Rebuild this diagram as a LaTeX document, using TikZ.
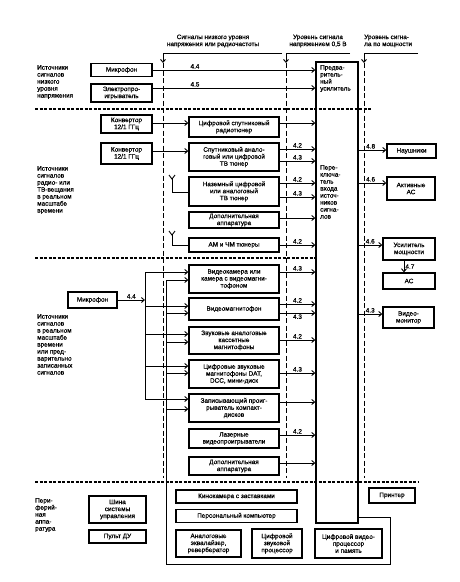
\documentclass[tikz,border=0pt]{standalone}
\usepackage{fontspec}
\setmainfont[FakeBold=0.6]{Liberation Sans}
\usetikzlibrary{arrows.meta}
\newcommand\tx{\fontsize{6.4}{7}\selectfont}
\tikzset{
 box/.style={draw, line width=1.3pt, align=center, inner sep=0pt, font=\tx},
 arr/.style={-{Straight Barb[length=3pt,width=5pt]}, line width=0.9pt},
 ln/.style={line width=0.9pt},
 sepl/.style={line width=1.2pt, dash pattern=on 3pt off 1.5pt},
 vdash/.style={line width=0.9pt, dash pattern=on 5pt off 2.5pt},
 lbl/.style={font=\tx, inner sep=1pt},
 cat/.style={font=\tx, align=left, anchor=north west, inner sep=0pt},
}
\begin{document}
\begin{tikzpicture}[x=1pt,y=-1pt]
\useasboundingbox (0,0) rectangle (460,582);

% headers
\node[lbl, align=center] (h1) at (213,41) {Сигналы низкого уровня\\напряжения или радиочастоты};
\node[lbl, align=center] (h2) at (318,41) {Уровень сигнала\\напряжением 0,5 В};
\node[lbl, align=left, anchor=west] (h3) at (363,41) {Уровень сигна-\\ла по мощности};
\coordinate (t1) at (163,53); \coordinate (t1e) at (282,53);
\coordinate (t2) at (286,53); \coordinate (t2e) at (350,53);
\coordinate (t3) at (364,53); \coordinate (t3e) at (418,53);
\draw[ln] (t1e) -- (t1); \draw[arr] (t1) -- (163,63); \draw[vdash] (163,63) -- (163,478);
\draw[ln] (t2e) -- (t2); \draw[arr] (t2) -- (286,63); \draw[vdash] (286,63) -- (286,478);
\draw[ln] (t3e) -- (t3); \draw[arr] (t3) -- (364,63); \draw[vdash] (364,63) -- (364,478);

% separators
\draw[sepl] (35,109) -- (372,109);
\draw[sepl] (35,258) -- (316,258);
\draw[sepl] (35,482) -- (418,482);

% category labels
\node[cat] (c1) at (37,65) {Источники\\сигналов\\низкого\\уровня\\напряжения};
\node[cat] (c2) at (37,166) {Источники\\сигналов\\радио- или\\ТВ-вещания\\в реальном\\масштабе\\времени};
\node[cat] (c3) at (37,314) {Источники\\сигналов\\в реальном\\масштабе\\времени\\или пред-\\варительно\\записанных\\сигналов};
\node[cat] (c4) at (35,498) {Пери-\\ферий-\\ная\\аппа-\\ратура};

% big box
\node[box, minimum width=42, minimum height=461] (big) at (337,292.5) {};
\node[cat] (pre) at (320,65) {Предва-\\ритель-\\ный\\усилитель};
\node[cat] (sw) at (320,165) {Пере-\\ключа-\\тель\\входа\\источ-\\ников\\сигна-\\лов};

% section 1
\node[box, minimum width=61, minimum height=13] (mic1) at (121.5,70) {Микрофон};
\node[box, minimum width=61, minimum height=18] (elec) at (121.5,93) {Электропро-\\игрыватель};
\draw[arr] (mic1.east) -- (big.west |- mic1.east) node[lbl,above,pos=0.26]{4.4};
\draw[arr] (elec.east |- 0,88) -- (big.west |- 0,88) node[lbl,above,pos=0.26]{4.5};

% section 2
\node[box, minimum width=51, minimum height=18] (conv1) at (126.5,124) {Конвертор\\12/1 ГГц};
\node[box, minimum width=51, minimum height=21] (conv2) at (126.5,153.5) {Конвертор\\12/1 ГГц};
\node[box, minimum width=90, minimum height=20] (dsat) at (234,127) {Цифровой спутниковый\\радиотюнер};
\node[box, minimum width=90, minimum height=28] (sattv) at (234,157) {Спутниковый анало-\\говый или цифровой\\ТВ тюнер};
\node[box, minimum width=90, minimum height=29] (terr) at (234,191.5) {Наземный цифровой\\или аналоговый\\ТВ тюнер};
\node[box, minimum width=90, minimum height=16] (add1) at (234,220) {Дополнительная\\аппаратура};
\node[box, minimum width=90, minimum height=14] (amfm) at (234,245) {АМ и ЧМ тюнеры};
\draw[arr] (conv1.east |- 0,123) -- (dsat.west |- 0,123);
\draw[arr] (conv2.east |- 0,151) -- (sattv.west |- 0,151);
% antennas
\coordinate (a1) at (172,179); \coordinate (a2) at (172,235);
\draw[ln] (169,175) -- (a1) -- (175,175); \draw[ln] (a1) -- (172,192) -- (terr.west |- 0,192);
\draw[ln] (169,231) -- (a2) -- (175,231); \draw[ln] (a2) -- (172,245) -- (amfm.west |- 0,245);
% outputs
\draw[arr] (dsat.east |- 0,123) -- (big.west |- 0,123);
\draw[arr] (sattv.east |- 0,149) -- (big.west |- 0,149) node[lbl,above,midway]{4.2};
\draw[arr] (sattv.east |- 0,161) -- (big.west |- 0,161) node[lbl,above,midway]{4.3};
\draw[arr] (terr.east |- 0,183) -- (big.west |- 0,183) node[lbl,above,midway]{4.2};
\draw[arr] (terr.east |- 0,197) -- (big.west |- 0,197) node[lbl,above,midway]{4.3};
\draw[arr] (add1.east |- 0,218) -- (big.west |- 0,218);
\draw[arr] (amfm.east |- 0,245) -- (big.west |- 0,245) node[lbl,above,midway]{4.2};

% right outputs
\node[box, minimum width=49, minimum height=14] (phones) at (411.5,151) {Наушники};
\node[box, minimum width=48, minimum height=23] (activ) at (411,188.5) {Активные\\АС};
\node[box, minimum width=52, minimum height=22] (amp) at (409,249) {Усилитель\\мощности};
\node[box, minimum width=52, minimum height=16] (as) at (409,281) {АС};
\node[box, minimum width=51, minimum height=21] (mon) at (408.5,317.5) {Видео-\\монитор};
\draw[arr] (big.east |- 0,150) -- (phones.west |- 0,150) node[lbl,anchor=south west,pos=0.22]{4.8};
\draw[arr] (big.east |- 0,183) -- (activ.west |- 0,183) node[lbl,anchor=south west,pos=0.22]{4.6};
\draw[arr] (big.east |- 0,245) -- (amp.west |- 0,245) node[lbl,anchor=south west,pos=0.24]{4.6};
\draw[arr] (big.east |- 0,314) -- (mon.west |- 0,314) node[lbl,anchor=south west,pos=0.24]{4.3};
\draw[arr] (amp.south -| 404,0) -- (as.north -| 404,0) node[lbl,right,midway]{4.7};

% section 3
\node[box, minimum width=49, minimum height=16] (mic2) at (92.5,300) {Микрофон};
\node[box, minimum width=90, minimum height=28] (vcam) at (234,279) {Видеокамера или\\камера с видеомагни-\\тофоном};
\node[box, minimum width=90, minimum height=22] (vcr) at (234,309) {Видеомагнитофон};
\node[box, minimum width=90, minimum height=27] (acass) at (234,340.5) {Звуковые аналоговые\\кассетные\\магнитофоны};
\node[box, minimum width=90, minimum height=28] (dat) at (234,374) {Цифровые звуковые\\магнитофоны DAT,\\DCC, мини-диск};
\node[box, minimum width=90, minimum height=28] (cdr) at (234,408) {Записывающий проиг-\\рыватель компакт-\\дисков};
\node[box, minimum width=90, minimum height=19] (ld) at (234,438.5) {Лазерные\\видеопроигрыватели};
\node[box, minimum width=90, minimum height=18] (add2) at (234,466) {Дополнительная\\аппаратура};
% bus 1
\coordinate (b1t) at (145,272); \coordinate (b1b) at (145,399);
\draw[ln] (b1t) -- (b1b);
\draw[arr] (mic2.east) -- (b1t |- mic2.east) node[lbl,above,midway]{4.4};
\draw[arr] (b1t) -- (vcam.west |- b1t);
\draw[arr] (b1t |- 0,306) -- (vcr.west |- 0,306);
\draw[arr] (b1t |- 0,334) -- (acass.west |- 0,334);
\draw[arr] (b1t |- 0,366) -- (dat.west |- 0,366);
\draw[arr] (b1b) -- (cdr.west |- b1b);
% bus 2 (loop from switch)
\coordinate (l1) at (390,517); \coordinate (l2) at (390,564);
\coordinate (l3) at (166,564); \coordinate (l4) at (166,280);
\draw[ln] (big.east |- l1) -- (l1) -- (l2) -- (l3) -- (l4);
\draw[arr] (l4) -- (vcam.west |- l4);
\draw[arr] (l4 |- 0,313) -- (vcr.west |- 0,313);
\draw[arr] (l4 |- 0,342) -- (acass.west |- 0,342);
\draw[arr] (l4 |- 0,373) -- (dat.west |- 0,373);
\draw[arr] (l4 |- 0,409) -- (cdr.west |- 0,409);
% outputs
\draw[arr] (vcam.east |- 0,272) -- (big.west |- 0,272) node[lbl,above,midway]{4.3};
\draw[arr] (vcr.east |- 0,304) -- (big.west |- 0,304) node[lbl,above,midway]{4.2};
\draw[arr] (vcr.east |- 0,313) -- (big.west |- 0,313) node[lbl,below,midway]{4.3};
\draw[arr] (acass.east |- 0,340) -- (big.west |- 0,340) node[lbl,above,midway]{4.2};
\draw[arr] (dat.east |- 0,373) -- (big.west |- 0,373) node[lbl,above,midway]{4.3};
\draw[arr] (cdr.east |- 0,402) -- (big.west |- 0,402);
\draw[arr] (ld.east |- 0,435) -- (big.west |- 0,435) node[lbl,above,midway]{4.2};
\draw[arr] (add2.east |- 0,463) -- (big.west |- 0,463);

% section 4
\node[box, minimum width=57, minimum height=27] (ctrl) at (117.5,509.5) {Шина\\системы\\управления};
\node[box, minimum width=57, minimum height=13] (rc) at (117.5,536.5) {Пульт ДУ};
\node[box, minimum width=121, minimum height=13] (kino) at (236.5,496.5) {Кинокамера с заставками};
\node[box, minimum width=121, minimum height=13] (pc) at (236.5,516) {Персональный компьютер};
\node[box, minimum width=65, minimum height=27] (eq) at (208.5,543.5) {Аналоговые\\эквалайзер,\\ревербератор};
\node[box, minimum width=50, minimum height=29] (dsp) at (277,543.5) {Цифровой\\звуковой\\процессор};
\node[box, minimum width=67, minimum height=29] (dvp) at (348.5,543.5) {Цифровой видео-\\процессор\\и память};
\node[box, minimum width=46, minimum height=15] (prn) at (392,495.5) {Принтер};
\end{tikzpicture}
\end{document}
